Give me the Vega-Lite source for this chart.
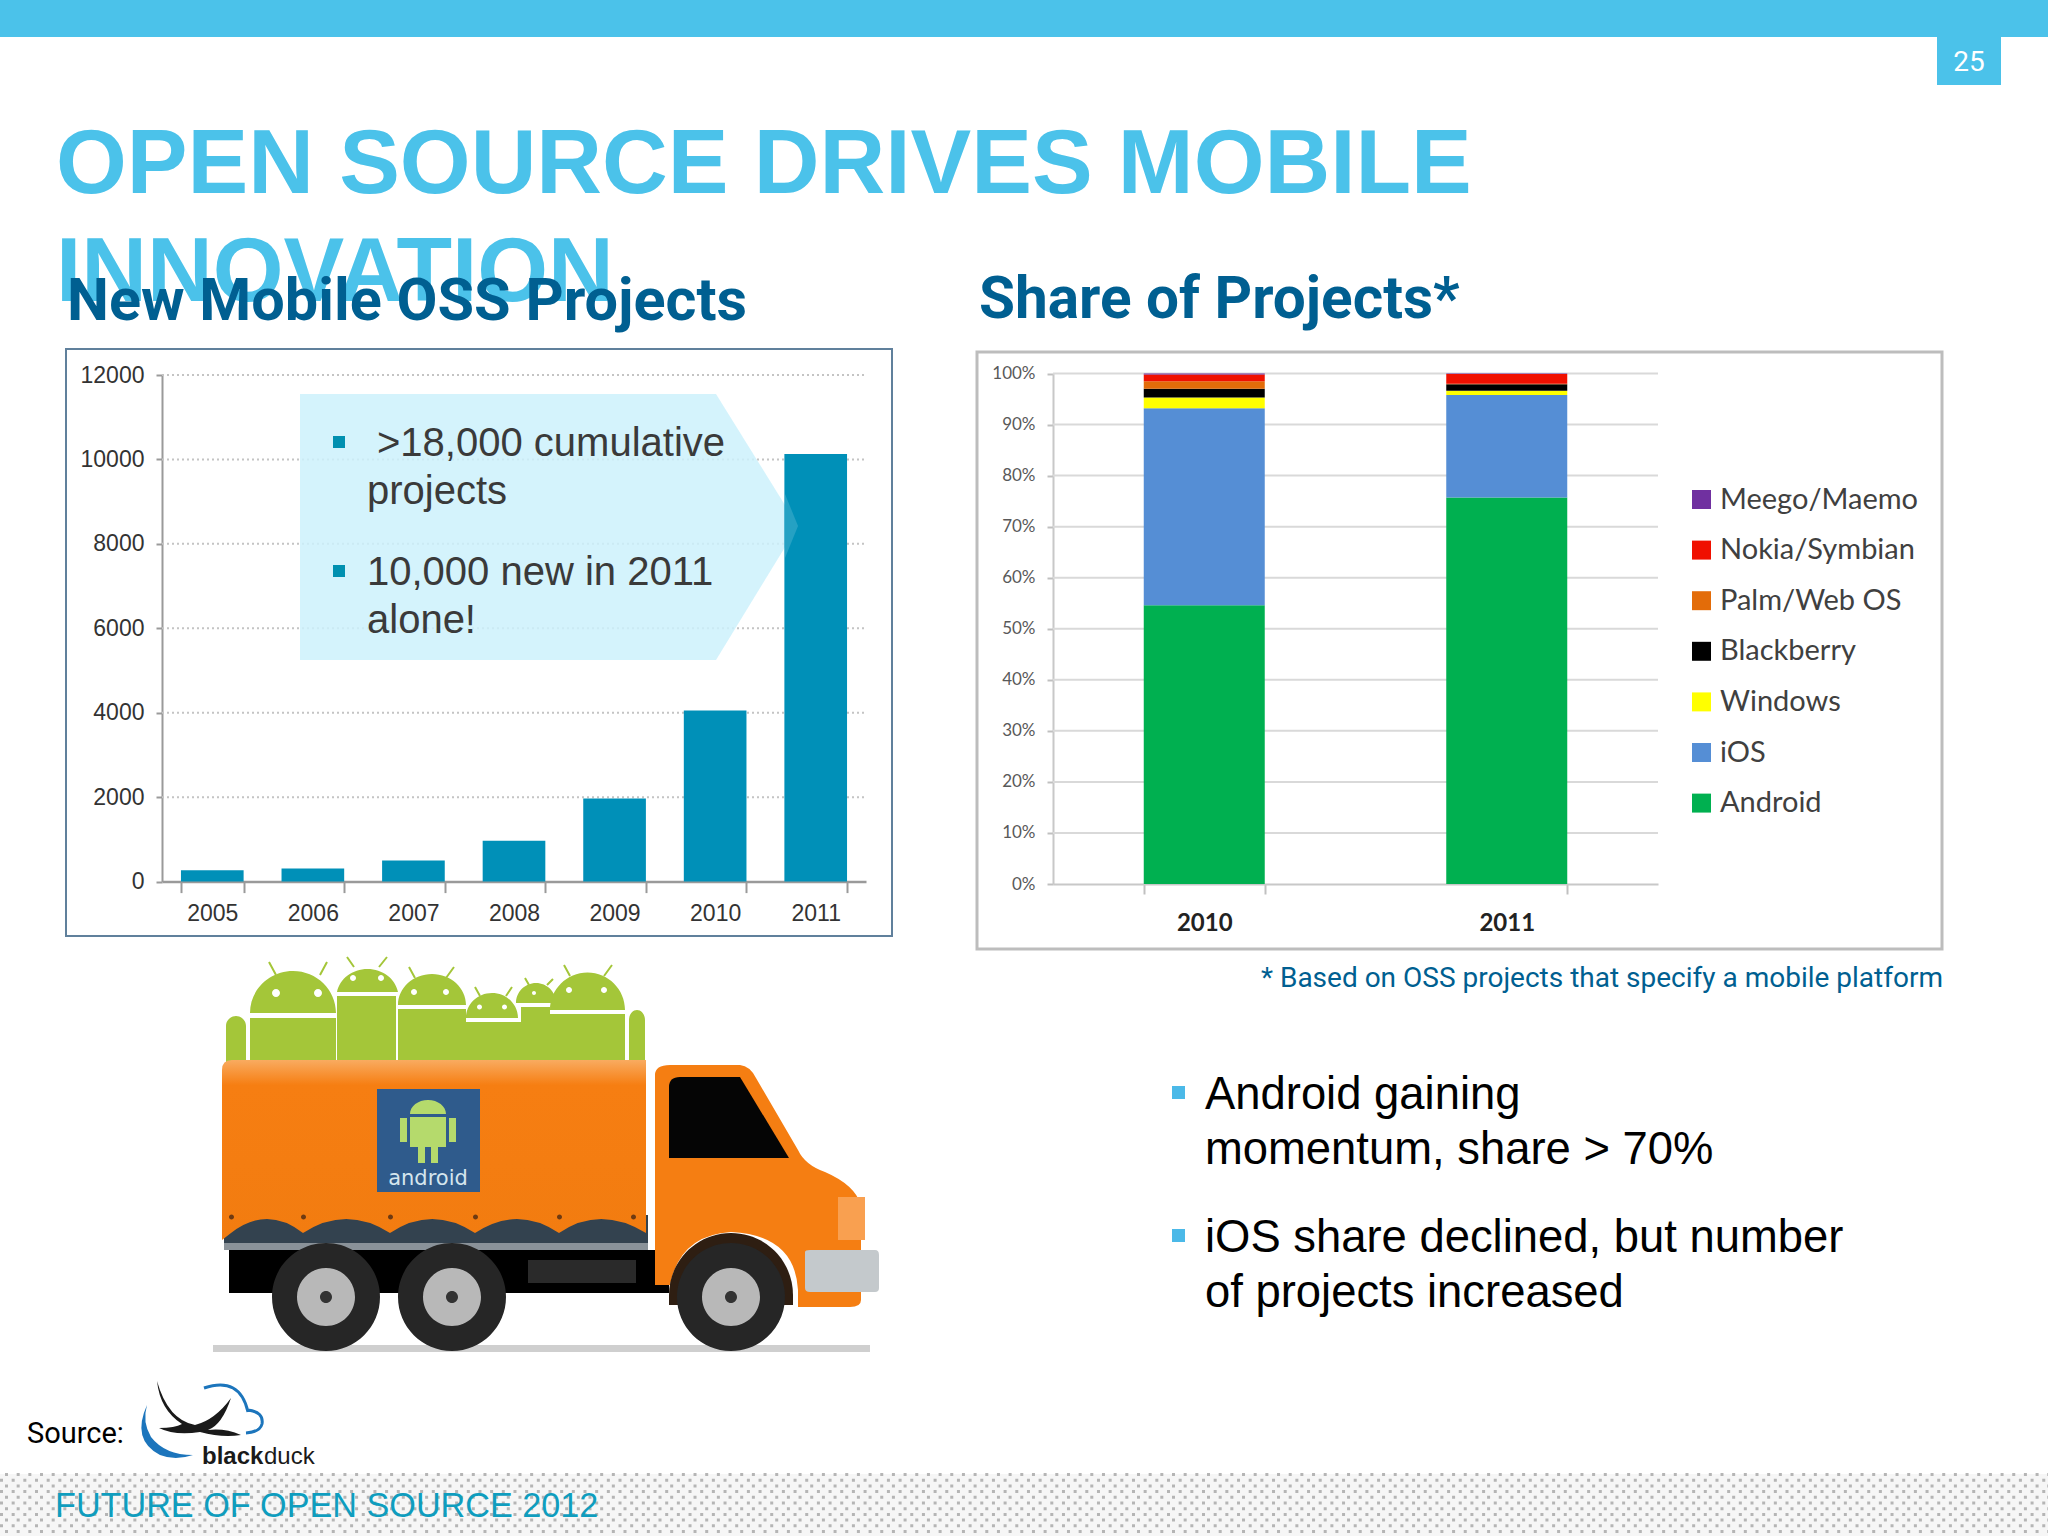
{
  "$schema": "https://vega.github.io/schema/vega-lite/v6.json",
  "autosize": {"type": "none"},
  "width": 2048,
  "height": 1536,
  "padding": 0,
  "background": "white",
  "config": {"view": {"stroke": null}},
  "datasets": {
    "slide": [{"part": "slide"}],
    "projects": [
      {"year": "2005", "projects": 270},
      {"year": "2006", "projects": 310},
      {"year": "2007", "projects": 500},
      {"year": "2008", "projects": 970},
      {"year": "2009", "projects": 1970},
      {"year": "2010", "projects": 4050},
      {"year": "2011", "projects": 10130}
    ],
    "projectTicks": [
      {"tick": 2000}, {"tick": 4000}, {"tick": 6000}, {"tick": 8000}, {"tick": 10000}, {"tick": 12000}
    ],
    "share": [
      {"year": "2010", "platform": "Android", "rank": 1, "share": 54.6},
      {"year": "2010", "platform": "iOS", "rank": 2, "share": 38.6},
      {"year": "2010", "platform": "Windows", "rank": 3, "share": 2.1},
      {"year": "2010", "platform": "Blackberry", "rank": 4, "share": 1.7},
      {"year": "2010", "platform": "Palm/Web OS", "rank": 5, "share": 1.5},
      {"year": "2010", "platform": "Nokia/Symbian", "rank": 6, "share": 1.3},
      {"year": "2010", "platform": "Meego/Maemo", "rank": 7, "share": 0.2},
      {"year": "2011", "platform": "Android", "rank": 1, "share": 75.7},
      {"year": "2011", "platform": "iOS", "rank": 2, "share": 20.1},
      {"year": "2011", "platform": "Windows", "rank": 3, "share": 0.8},
      {"year": "2011", "platform": "Blackberry", "rank": 4, "share": 1.3},
      {"year": "2011", "platform": "Palm/Web OS", "rank": 5, "share": 0.1},
      {"year": "2011", "platform": "Nokia/Symbian", "rank": 6, "share": 1.9},
      {"year": "2011", "platform": "Meego/Maemo", "rank": 7, "share": 0.1}
    ],
    "shareTicks": [
      {"tick": 10}, {"tick": 20}, {"tick": 30}, {"tick": 40}, {"tick": 50}, {"tick": 60}, {"tick": 70}, {"tick": 80}, {"tick": 90}, {"tick": 100}
    ]
  },
  "data": {"name": "slide"},
  "resolve": {"scale": {"x": "independent", "y": "independent", "color": "independent"}, "axis": {"x": "independent", "y": "independent"}},
  "layer": [
    {"mark": {"type": "point", "shape": "M0 0H2048V37H0Z M1937 37H2001V85H1937Z", "size": 4, "filled": true, "fill": "#4BC2EA", "opacity": 1}, "encoding": {"x": {"value": 0}, "y": {"value": 0}}},
    {"mark": {"type": "point", "shape": "M0 1474H2048V1536H0Z", "size": 4, "filled": true, "fill": "#F6F6F6", "opacity": 1}, "encoding": {"x": {"value": 0}, "y": {"value": 0}}},
    {"mark": {"type": "point", "shape": "M5 1474.5H2048M5 1485.9H2048M5 1497.3H2048M5 1508.7H2048M5 1520.1H2048M5 1531.5H2048", "size": 4, "filled": false, "fill": null, "stroke": "#B5B5B5", "strokeWidth": 3, "strokeDash": [3, 8.67], "opacity": 1}, "encoding": {"x": {"value": 0}, "y": {"value": 0}}},
    {"mark": {"type": "point", "shape": "M0 1480.2H2048M0 1491.6H2048M0 1503H2048M0 1514.4H2048M0 1525.8H2048", "size": 4, "filled": false, "fill": null, "stroke": "#B5B5B5", "strokeWidth": 3, "strokeDash": [3, 8.67], "opacity": 1}, "encoding": {"x": {"value": 0}, "y": {"value": 0}}},

    {"data": {"values": [{"label": "25"}]}, "mark": {"type": "text", "font": "Roboto", "fontSize": 28, "color": "white", "align": "center", "baseline": "alphabetic"}, "encoding": {"x": {"value": 1969}, "y": {"value": 71}, "text": {"field": "label"}}},
    {"data": {"values": [{"label": "OPEN SOURCE DRIVES MOBILE"}]}, "mark": {"type": "text", "font": "Liberation Sans", "fontWeight": "bold", "fontSize": 91, "color": "#4BC2EA", "align": "left", "baseline": "alphabetic"}, "encoding": {"x": {"value": 56}, "y": {"value": 193}, "text": {"field": "label"}}},
    {"data": {"values": [{"label": "INNOVATION"}]}, "mark": {"type": "text", "font": "Liberation Sans", "fontWeight": "bold", "fontSize": 91, "color": "#4BC2EA", "align": "left", "baseline": "alphabetic"}, "encoding": {"x": {"value": 56}, "y": {"value": 301}, "text": {"field": "label"}}},
    {"data": {"values": [{"label": "New Mobile OSS Projects"}]}, "mark": {"type": "text", "font": "Roboto", "fontWeight": "bold", "fontSize": 59.4, "color": "#005F91", "align": "left", "baseline": "alphabetic"}, "encoding": {"x": {"value": 67}, "y": {"value": 320}, "text": {"field": "label"}}},
    {"data": {"values": [{"label": "Share of Projects*"}]}, "mark": {"type": "text", "font": "Roboto", "fontWeight": "bold", "fontSize": 58.5, "color": "#005F91", "align": "left", "baseline": "alphabetic"}, "encoding": {"x": {"value": 979}, "y": {"value": 318}, "text": {"field": "label"}}},

    {"mark": {"type": "point", "shape": "M66 349H892V936H66Z", "size": 4, "filled": false, "fill": null, "stroke": "#60809C", "strokeWidth": 2, "opacity": 1}, "encoding": {"x": {"value": 0}, "y": {"value": 0}}},
    {"mark": {"type": "point", "shape": "M977 352H1942V949H977Z", "size": 4, "filled": false, "fill": null, "stroke": "#BDBDBD", "strokeWidth": 3, "opacity": 1}, "encoding": {"x": {"value": 0}, "y": {"value": 0}}},

    {
      "layer": [
        {
          "data": {"name": "projectTicks"},
          "mark": {"type": "rule", "color": "#C4C4C4", "strokeWidth": 2, "strokeDash": [2, 3]},
          "encoding": {
            "x": {"value": 162},
            "x2": {"value": 866},
            "y": {
              "field": "tick",
              "type": "quantitative",
              "scale": {"domain": [0, 12000], "range": [881.6, 375]},
              "axis": {"title": null, "orient": "left", "offset": -162, "values": [0, 2000, 4000, 6000, 8000, 10000, 12000], "grid": false, "format": "d", "tickSize": 6, "tickColor": "#9A9A9A", "tickWidth": 2, "domainColor": "#9A9A9A", "domainWidth": 2, "labelFont": "Liberation Sans", "labelFontSize": 23, "labelColor": "#333333", "labelPadding": 12}
            }
          }
        },
        {
          "mark": {"type": "point", "shape": "M300 394H716L798 526L716 660H300Z", "size": 4, "filled": true, "fill": "#CDF1FC", "opacity": 0.85},
          "encoding": {"x": {"value": 0}, "y": {"value": 0}}
        },
        {
          "data": {"name": "projects"},
          "mark": {"type": "bar", "color": "#0090B8"},
          "encoding": {
            "x": {
              "field": "year",
              "type": "ordinal",
              "scale": {"range": [162, 866], "paddingInner": 0.377, "paddingOuter": 0.1885},
              "axis": {"title": null, "orient": "bottom", "labelAngle": 0, "offset": -654.4, "tickBand": "extent", "tickSize": 11, "tickColor": "#9A9A9A", "tickWidth": 2, "domainColor": "#9A9A9A", "domainWidth": 2.5, "labelFont": "Liberation Sans", "labelFontSize": 23, "labelColor": "#333333", "labelPadding": 10}
            },
            "y": {
              "field": "projects",
              "type": "quantitative",
              "scale": {"domain": [0, 12000], "range": [881.6, 375]},
              "axis": {"title": null, "orient": "left", "offset": -162, "values": [0, 2000, 4000, 6000, 8000, 10000, 12000], "grid": false, "format": "d", "tickSize": 6, "tickColor": "#9A9A9A", "tickWidth": 2, "domainColor": "#9A9A9A", "domainWidth": 2, "labelFont": "Liberation Sans", "labelFontSize": 23, "labelColor": "#333333", "labelPadding": 12}
            }
          }
        }
      ]
    },

    {"mark": {"type": "point", "shape": "M785 494L798 526L785 558Z", "size": 4, "filled": true, "fill": "#CDF1FC", "opacity": 0.18}, "encoding": {"x": {"value": 0}, "y": {"value": 0}}},
    {"mark": {"type": "point", "shape": "M333 436H345V448H333Z M333 565H345V577H333Z", "size": 4, "filled": true, "fill": "#0090B0", "opacity": 1}, "encoding": {"x": {"value": 0}, "y": {"value": 0}}},
    {"data": {"values": [{"label": ">18,000 cumulative"}]}, "mark": {"type": "text", "font": "Liberation Sans", "fontSize": 40, "color": "#3A3A3A", "align": "left", "baseline": "alphabetic"}, "encoding": {"x": {"value": 377}, "y": {"value": 456}, "text": {"field": "label"}}},
    {"data": {"values": [{"label": "projects"}]}, "mark": {"type": "text", "font": "Liberation Sans", "fontSize": 40, "color": "#3A3A3A", "align": "left", "baseline": "alphabetic"}, "encoding": {"x": {"value": 367}, "y": {"value": 504}, "text": {"field": "label"}}},
    {"data": {"values": [{"label": "10,000 new in 2011"}]}, "mark": {"type": "text", "font": "Liberation Sans", "fontSize": 40, "color": "#3A3A3A", "align": "left", "baseline": "alphabetic"}, "encoding": {"x": {"value": 367}, "y": {"value": 585}, "text": {"field": "label"}}},
    {"data": {"values": [{"label": "alone!"}]}, "mark": {"type": "text", "font": "Liberation Sans", "fontSize": 40, "color": "#3A3A3A", "align": "left", "baseline": "alphabetic"}, "encoding": {"x": {"value": 367}, "y": {"value": 633}, "text": {"field": "label"}}},

    {
      "layer": [
        {
          "data": {"name": "shareTicks"},
          "mark": {"type": "rule", "color": "#D9D9D9", "strokeWidth": 2},
          "encoding": {
            "x": {"value": 1053},
            "x2": {"value": 1658},
            "y": {
              "field": "tick",
              "type": "quantitative",
              "scale": {"domain": [0, 100], "range": [884, 373.5]},
              "axis": {"title": null, "orient": "left", "offset": -1053, "values": [0, 10, 20, 30, 40, 50, 60, 70, 80, 90, 100], "grid": false, "labelExpr": "datum.value + '%'", "tickSize": 6, "tickColor": "#C0C0C0", "tickWidth": 2, "domainColor": "#C8C8C8", "domainWidth": 2, "labelFont": "Lato", "labelFontSize": 17, "labelColor": "#595959", "labelPadding": 12}
            }
          }
        },
        {
          "data": {"name": "share"},
          "mark": {"type": "bar"},
          "encoding": {
            "x": {
              "field": "year",
              "type": "ordinal",
              "scale": {"range": [1053, 1658], "paddingInner": 0.6, "paddingOuter": 0.3},
              "axis": {"title": null, "orient": "bottom", "labelAngle": 0, "offset": -652, "tickBand": "extent", "tickSize": 10, "tickColor": "#C0C0C0", "tickWidth": 2, "domainColor": "#C8C8C8", "domainWidth": 2, "labelFont": "Lato", "labelFontWeight": "bold", "labelFontSize": 24, "labelColor": "#222222", "labelPadding": 17}
            },
            "y": {
              "field": "share",
              "type": "quantitative",
              "stack": "zero",
              "scale": {"domain": [0, 100], "range": [884, 373.5]},
              "axis": {"title": null, "orient": "left", "offset": -1053, "values": [0, 10, 20, 30, 40, 50, 60, 70, 80, 90, 100], "grid": false, "labelExpr": "datum.value + '%'", "tickSize": 6, "tickColor": "#C0C0C0", "tickWidth": 2, "domainColor": "#C8C8C8", "domainWidth": 2, "labelFont": "Lato", "labelFontSize": 17, "labelColor": "#595959", "labelPadding": 12}
            },
            "color": {
              "field": "platform",
              "type": "nominal",
              "scale": {
                "domain": ["Meego/Maemo", "Nokia/Symbian", "Palm/Web OS", "Blackberry", "Windows", "iOS", "Android"],
                "range": ["#7030A0", "#F01000", "#E36C09", "#000000", "#FFFF00", "#558ED5", "#00B050"]
              },
              "legend": {"title": null, "orient": "none", "legendX": 1687, "legendY": 485, "symbolType": "square", "symbolSize": 360, "symbolStrokeWidth": 0, "symbolOpacity": 1, "labelFont": "Lato", "labelFontSize": 29, "labelColor": "#404040", "labelOffset": 4, "labelLimit": 400, "rowPadding": 20.6}
            },
            "order": {"field": "rank", "type": "ordinal"}
          }
        }
      ]
    },

    {"data": {"values": [{"label": "* Based on OSS projects that specify a mobile platform"}]}, "mark": {"type": "text", "font": "Roboto", "fontSize": 28, "color": "#005F91", "align": "right", "baseline": "alphabetic"}, "encoding": {"x": {"value": 1943}, "y": {"value": 987}, "text": {"field": "label"}}},

    {"mark": {"type": "point", "shape": "M1172 1086H1185V1099H1172Z M1172 1229H1185V1242H1172Z", "size": 4, "filled": true, "fill": "#4BB9E8", "opacity": 1}, "encoding": {"x": {"value": 0}, "y": {"value": 0}}},
    {"data": {"values": [{"label": "Android gaining"}]}, "mark": {"type": "text", "font": "Liberation Sans", "fontSize": 45.4, "color": "#000000", "align": "left", "baseline": "alphabetic"}, "encoding": {"x": {"value": 1205}, "y": {"value": 1109}, "text": {"field": "label"}}},
    {"data": {"values": [{"label": "momentum, share > 70%"}]}, "mark": {"type": "text", "font": "Liberation Sans", "fontSize": 45.4, "color": "#000000", "align": "left", "baseline": "alphabetic"}, "encoding": {"x": {"value": 1205}, "y": {"value": 1164}, "text": {"field": "label"}}},
    {"data": {"values": [{"label": "iOS share declined, but number"}]}, "mark": {"type": "text", "font": "Liberation Sans", "fontSize": 45.4, "color": "#000000", "align": "left", "baseline": "alphabetic"}, "encoding": {"x": {"value": 1205}, "y": {"value": 1252}, "text": {"field": "label"}}},
    {"data": {"values": [{"label": "of projects increased"}]}, "mark": {"type": "text", "font": "Liberation Sans", "fontSize": 45.4, "color": "#000000", "align": "left", "baseline": "alphabetic"}, "encoding": {"x": {"value": 1205}, "y": {"value": 1307}, "text": {"field": "label"}}},

    {"mark": {"type": "point", "shape": "M213 1345H870V1352H213Z", "size": 4, "filled": true, "fill": "#CFCFCF", "opacity": 1}, "encoding": {"x": {"value": 0}, "y": {"value": 0}}},
    {"mark": {"type": "point", "shape": "M250 1013A43 42 0 0 1 336 1013Z M250 1018H336V1062H250Z M337 992A31 28 0 0 1 398 992Z M337 996H396V1062H337Z M398 1005A34 31 0 0 1 466 1005Z M398 1009H466V1062H398Z M466 1018A26 25 0 0 1 518 1018Z M464 1022H521V1062H464Z M516 1003A20 20 0 0 1 556 1003Z M521 1007H550V1062H521Z M550 1010A37 37 0 0 1 625 1010Z M550 1014H625V1062H550Z M226 1062V1026A10 10 0 0 1 246 1026V1062Z M629 1062V1020A8 10 0 0 1 645 1020V1062Z", "size": 4, "filled": true, "fill": "#A4C639", "opacity": 1}, "encoding": {"x": {"value": 0}, "y": {"value": 0}}},
    {"mark": {"type": "point", "shape": "M269 962L276 975M327 962L320 975M347 957L354 967M387 957L379 967M409 967L415 978M454 967L446 978M475 987L480 996M512 987L506 996M525 978L529 985M553 979L547 985M564 965L570 976M612 965L604 976", "size": 4, "filled": false, "fill": null, "stroke": "#A4C639", "strokeWidth": 2, "opacity": 1}, "encoding": {"x": {"value": 0}, "y": {"value": 0}}},
    {"mark": {"type": "point", "shape": "M272 993a4 4 0 1 0 8 0a4 4 0 1 0 -8 0Z M314 993a4 4 0 1 0 8 0a4 4 0 1 0 -8 0Z M350 978a3 3 0 1 0 6 0a3 3 0 1 0 -6 0Z M378 978a3 3 0 1 0 6 0a3 3 0 1 0 -6 0Z M411 992a3 3 0 1 0 6 0a3 3 0 1 0 -6 0Z M443 992a3 3 0 1 0 6 0a3 3 0 1 0 -6 0Z M477 1007a2.5 2.5 0 1 0 5 0a2.5 2.5 0 1 0 -5 0Z M502 1007a2.5 2.5 0 1 0 5 0a2.5 2.5 0 1 0 -5 0Z M532 993a2 2 0 1 0 4 0a2 2 0 1 0 -4 0Z M566 990a3 3 0 1 0 6 0a3 3 0 1 0 -6 0Z M601 990a3 3 0 1 0 6 0a3 3 0 1 0 -6 0Z", "size": 4, "filled": true, "fill": "white", "opacity": 1}, "encoding": {"x": {"value": 0}, "y": {"value": 0}}},

    {"mark": {"type": "point", "shape": "M224 1215H648V1250H224Z", "size": 4, "filled": true, "fill": "#33424F", "opacity": 1}, "encoding": {"x": {"value": 0}, "y": {"value": 0}}},
    {"mark": {"type": "point", "shape": "M224 1243H648V1250H224Z", "size": 4, "filled": true, "fill": "#8A9299", "opacity": 1}, "encoding": {"x": {"value": 0}, "y": {"value": 0}}},
    {"mark": {"type": "point", "shape": "M229 1250H669V1293H229Z", "size": 4, "filled": true, "fill": "#000000", "opacity": 1}, "encoding": {"x": {"value": 0}, "y": {"value": 0}}},
    {"mark": {"type": "point", "shape": "M528 1260H636V1283H528Z", "size": 4, "filled": true, "fill": "#2A2A2A", "opacity": 1}, "encoding": {"x": {"value": 0}, "y": {"value": 0}}},
    {"mark": {"type": "point", "shape": "M222 1070Q222 1060 232 1060H646V1233Q600 1205 559 1233Q517 1205 475 1233Q432 1205 390 1233Q346 1205 303 1233Q267 1205 231 1233L222 1240Z", "size": 4, "filled": true, "fill": {"gradient": "linear", "x1": 0, "y1": 0, "x2": 0, "y2": 1, "stops": [{"offset": 0, "color": "#F9AB60"}, {"offset": 0.14, "color": "#F67E12"}, {"offset": 1, "color": "#F27C10"}]}, "opacity": 1}, "encoding": {"x": {"value": 0}, "y": {"value": 0}}},
    {"mark": {"type": "point", "shape": "M229 1217a2.5 2.5 0 1 0 5 0a2.5 2.5 0 1 0 -5 0Z M301 1217a2.5 2.5 0 1 0 5 0a2.5 2.5 0 1 0 -5 0Z M388 1217a2.5 2.5 0 1 0 5 0a2.5 2.5 0 1 0 -5 0Z M473 1217a2.5 2.5 0 1 0 5 0a2.5 2.5 0 1 0 -5 0Z M557 1217a2.5 2.5 0 1 0 5 0a2.5 2.5 0 1 0 -5 0Z M631 1217a2.5 2.5 0 1 0 5 0a2.5 2.5 0 1 0 -5 0Z", "size": 4, "filled": true, "fill": "#6E3A12", "opacity": 1}, "encoding": {"x": {"value": 0}, "y": {"value": 0}}},
    {"mark": {"type": "point", "shape": "M655 1075Q655 1065 670 1065H740Q750 1066 756 1078L798 1150Q805 1165 825 1172Q855 1185 861 1205V1300Q861 1307 850 1307H798V1290Q795 1235 731 1232Q680 1235 670 1285H655Z", "size": 4, "filled": true, "fill": "#F57E12", "opacity": 1}, "encoding": {"x": {"value": 0}, "y": {"value": 0}}},
    {"mark": {"type": "point", "shape": "M669 1087Q669 1077 680 1077H740L789 1158H669Z", "size": 4, "filled": true, "fill": "#050505", "opacity": 1}, "encoding": {"x": {"value": 0}, "y": {"value": 0}}},
    {"mark": {"type": "point", "shape": "M838 1197H865V1240H838Z", "size": 4, "filled": true, "fill": "#F9A050", "opacity": 1}, "encoding": {"x": {"value": 0}, "y": {"value": 0}}},
    {"mark": {"type": "point", "shape": "M805 1252Q805 1250 810 1250H875Q879 1250 879 1255V1288Q879 1292 875 1292H810Q805 1292 805 1288Z", "size": 4, "filled": true, "fill": "#C4C9CC", "opacity": 1}, "encoding": {"x": {"value": 0}, "y": {"value": 0}}},
    {"mark": {"type": "point", "shape": "M669 1295a62 62 0 1 1 124 0V1305H669Z", "size": 4, "filled": true, "fill": "#2E1E12", "opacity": 1}, "encoding": {"x": {"value": 0}, "y": {"value": 0}}},
    {"mark": {"type": "point", "shape": "M272 1297a54 54 0 1 0 108 0a54 54 0 1 0 -108 0Z M398 1297a54 54 0 1 0 108 0a54 54 0 1 0 -108 0Z M677 1297a54 54 0 1 0 108 0a54 54 0 1 0 -108 0Z", "size": 4, "filled": true, "fill": "#262626", "opacity": 1}, "encoding": {"x": {"value": 0}, "y": {"value": 0}}},
    {"mark": {"type": "point", "shape": "M297 1297a29 29 0 1 0 58 0a29 29 0 1 0 -58 0Z M423 1297a29 29 0 1 0 58 0a29 29 0 1 0 -58 0Z M702 1297a29 29 0 1 0 58 0a29 29 0 1 0 -58 0Z", "size": 4, "filled": true, "fill": "#B8B8B8", "opacity": 1}, "encoding": {"x": {"value": 0}, "y": {"value": 0}}},
    {"mark": {"type": "point", "shape": "M320 1297a6 6 0 1 0 12 0a6 6 0 1 0 -12 0Z M446 1297a6 6 0 1 0 12 0a6 6 0 1 0 -12 0Z M725 1297a6 6 0 1 0 12 0a6 6 0 1 0 -12 0Z", "size": 4, "filled": true, "fill": "#333333", "opacity": 1}, "encoding": {"x": {"value": 0}, "y": {"value": 0}}},
    {"mark": {"type": "point", "shape": "M377 1089H480V1192H377Z", "size": 4, "filled": true, "fill": "#2F5B8C", "opacity": 1}, "encoding": {"x": {"value": 0}, "y": {"value": 0}}},
    {"mark": {"type": "point", "shape": "M410 1114A18 14 0 0 1 446 1114Z M410 1117H446V1147H438V1163H431V1147H425V1163H418V1147H410Z M400 1118H407V1142H400Z M449 1118H456V1142H449Z", "size": 4, "filled": true, "fill": "#B5DA6C", "opacity": 1}, "encoding": {"x": {"value": 0}, "y": {"value": 0}}},
    {"data": {"values": [{"label": "android"}]}, "mark": {"type": "text", "font": "DejaVu Sans", "fontSize": 21, "color": "#D5E6EE", "align": "center", "baseline": "alphabetic"}, "encoding": {"x": {"value": 428}, "y": {"value": 1185}, "text": {"field": "label"}}},

    {"data": {"values": [{"label": "Source:"}]}, "mark": {"type": "text", "font": "Roboto", "fontSize": 29, "color": "#000000", "align": "left", "baseline": "alphabetic"}, "encoding": {"x": {"value": 27}, "y": {"value": 1443}, "text": {"field": "label"}}},
    {"mark": {"type": "point", "shape": "M204 1388Q240 1376 248 1412M248 1410Q264 1412 262 1424Q260 1432 246 1433", "size": 4, "filled": false, "fill": null, "stroke": "#1C75BC", "strokeWidth": 3, "opacity": 1}, "encoding": {"x": {"value": 0}, "y": {"value": 0}}},
    {"mark": {"type": "point", "shape": "M147 1405Q131 1440 160 1455Q175 1461 193 1455Q165 1455 151 1437Q142 1422 147 1405Z", "size": 4, "filled": true, "fill": "#1C75BC", "opacity": 1}, "encoding": {"x": {"value": 0}, "y": {"value": 0}}},
    {"mark": {"type": "point", "shape": "M157 1381Q168 1420 195 1425Q215 1420 231 1398Q222 1425 208 1430Q225 1428 241 1435Q222 1438 200 1432Q175 1436 159 1428Q175 1428 182 1424Q160 1410 157 1381Z", "size": 4, "filled": true, "fill": "#1A1A1A", "opacity": 1}, "encoding": {"x": {"value": 0}, "y": {"value": 0}}},
    {"data": {"values": [{"label": "black"}]}, "mark": {"type": "text", "font": "Liberation Sans", "fontWeight": "bold", "fontSize": 24, "color": "#1A1A1A", "align": "left", "baseline": "alphabetic"}, "encoding": {"x": {"value": 202}, "y": {"value": 1464}, "text": {"field": "label"}}},
    {"data": {"values": [{"label": "duck"}]}, "mark": {"type": "text", "font": "Liberation Sans", "fontSize": 24, "color": "#1A1A1A", "align": "left", "baseline": "alphabetic"}, "encoding": {"x": {"value": 264}, "y": {"value": 1464}, "text": {"field": "label"}}},
    {"data": {"values": [{"label": "FUTURE OF OPEN SOURCE 2012"}]}, "mark": {"type": "text", "font": "Liberation Sans", "fontSize": 34.2, "color": "#0F9DBE", "align": "left", "baseline": "alphabetic"}, "encoding": {"x": {"value": 55}, "y": {"value": 1517}, "text": {"field": "label"}}}
  ]
}
